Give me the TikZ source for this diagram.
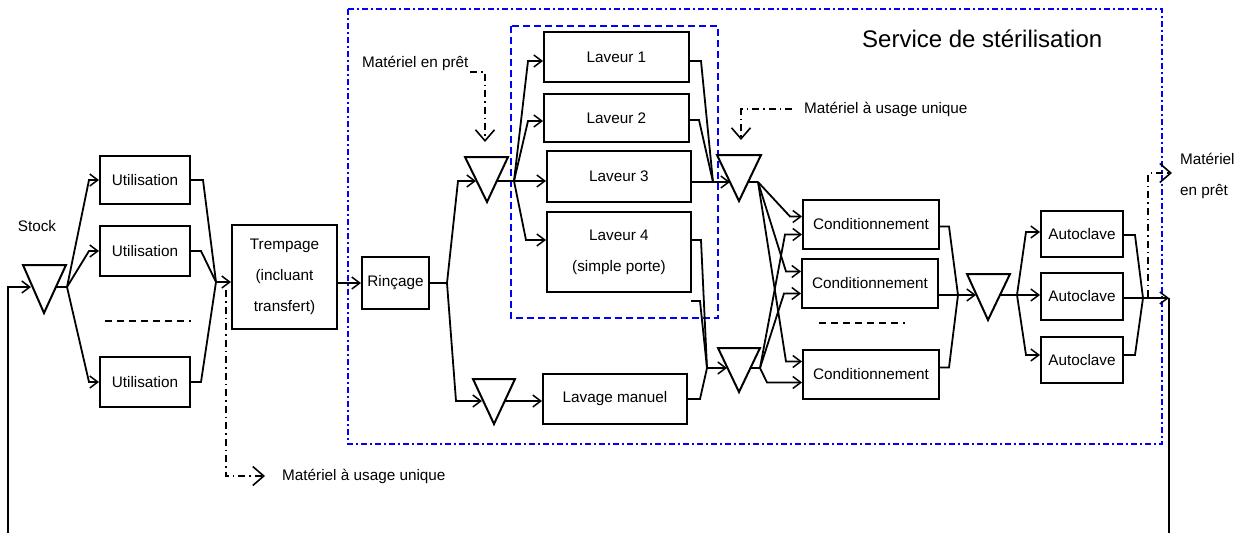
\documentclass[tikz,border=0pt]{standalone}
\usepackage{fontspec}
\setmainfont{Liberation Sans}
\usetikzlibrary{arrows.meta}
\definecolor{pureblue}{RGB}{0,0,255}
\tikzset{
  ln/.style={line width=1.8pt, black, line join=miter},
  arr/.style={ln, -{Straight Barb[length=8pt,width=12pt,line width=1.5pt]}},
  box/.style={draw, line width=2pt, inner sep=1pt, font=\fontsize{15.3}{31}\selectfont, align=center},
  tri/.style={draw, line width=2pt, line join=miter},
  bluebox/.style={pureblue, line width=2pt, dash pattern=on 6pt off 3pt on 2pt off 3pt},
  bluedash/.style={pureblue, line width=2pt, dash pattern=on 7pt off 4pt},
  flow/.style={line width=1.8pt, black, dash pattern=on 7pt off 4pt on 1.5pt off 4pt, -{Straight Barb[length=11pt,width=19pt,line width=1.6pt]}},
  sep/.style={line width=1.8pt, dash pattern=on 7pt off 5pt},
  lbl/.style={inner sep=0pt, font=\fontsize{15.3}{18}\selectfont},
}
\begin{document}
\begin{tikzpicture}[x=1pt,y=-1pt]
\useasboundingbox (0,0) rectangle (1240,533);

% service boundary
\draw[bluebox] (348,9) rectangle (1162,444);
\draw[bluedash] (511,26) rectangle (718,318);
\node[lbl, anchor=base west, font=\fontsize{24}{28}\selectfont] (svc) at (862,47) {Service de stérilisation};

% boxes
\node[box, minimum width=90pt, minimum height=48pt] (u1) at (145,180) {Utilisation};
\node[box, minimum width=90pt, minimum height=50pt] (u2) at (145,251) {Utilisation};
\node[box, minimum width=90pt, minimum height=50pt] (u4) at (145,382) {Utilisation};
\node[box, minimum width=105pt, minimum height=104pt] (trem) at (284.5,277) {Trempage\\(incluant\\transfert)};
\node[box, minimum width=67pt, minimum height=52pt] (rin) at (395.5,283) {Rinçage};
\node[box, minimum width=145pt, minimum height=50pt] (L1) at (616.5,57) {Laveur 1};
\node[box, minimum width=145pt, minimum height=48pt] (L2) at (616.5,118) {Laveur 2};
\node[box, minimum width=144pt, minimum height=51pt] (L3) at (619,176.5) {Laveur 3};
\node[box, minimum width=144pt, minimum height=80pt] (L4) at (619,252) {Laveur 4\\(simple porte)};
\node[box, minimum width=144pt, minimum height=50pt] (lav) at (615,399) {Lavage manuel};
\node[box, minimum width=136pt, minimum height=49pt] (C1) at (871,224.5) {Conditionnement};
\node[box, minimum width=136pt, minimum height=49pt] (C2) at (870,283.5) {Conditionnement};
\node[box, minimum width=136pt, minimum height=49pt] (C3) at (871,374.5) {Conditionnement};
\node[box, minimum width=82pt, minimum height=46pt] (A1) at (1082,234) {Autoclave};
\node[box, minimum width=82pt, minimum height=47pt] (A2) at (1082,296.5) {Autoclave};
\node[box, minimum width=82pt, minimum height=46pt] (A3) at (1082,360) {Autoclave};

% triangles (stocks / buffers)
\draw[tri] (23,265) -- (66,265) -- (44,313) -- cycle;
\draw[tri] (465,157) -- (508,157) -- (487,202) -- cycle;
\draw[tri] (473,379) -- (515,379) -- (494,424) -- cycle;
\draw[tri] (717,155) -- (761,155) -- (739,201) -- cycle;
\draw[tri] (718,348) -- (760,348) -- (739,392) -- cycle;
\draw[tri] (967,274) -- (1010,274) -- (988,320) -- cycle;

% named points
\coordinate (Sin) at (31,287);   \coordinate (Sout) at (56,287);
\coordinate (b0) at (67,287);
\coordinate (m1) at (216,282);
\coordinate (b2) at (447,283);
\coordinate (T2in) at (476,181); \coordinate (T2out) at (497,181);
\coordinate (b3) at (514,181);
\coordinate (T4in) at (482,401); \coordinate (T4out) at (504,401);
\coordinate (m3) at (713,182);
\coordinate (T3in) at (730,182); \coordinate (T3out) at (748,182);
\coordinate (b4) at (758,182);
\coordinate (m4) at (707,368);
\coordinate (stray) at (691,301);
\coordinate (T6in) at (727,368); \coordinate (T6out) at (751,368);
\coordinate (b6) at (760,368);
\coordinate (m5) at (958,295);
\coordinate (T5in) at (976,295); \coordinate (T5out) at (1000,295);
\coordinate (b7) at (1017,295);
\coordinate (m7) at (1143,298);
\coordinate (ret) at (1169,298);
\coordinate (retR) at (1169,533);
\coordinate (retL) at (8,533);
\coordinate (retLt) at (8,287);

% labels
\node[lbl, anchor=base] (stock) at (37,231) {Stock};
\node[lbl, anchor=base west] (mp1) at (362,67) {Matériel en prêt};
\node[lbl, anchor=base west] (mu1) at (804,113) {Matériel à usage unique};
\node[lbl, anchor=base west] (mu2) at (282,480) {Matériel à usage unique};
\node[lbl, anchor=base west] (mp2a) at (1180,164) {Matériel};
\node[lbl, anchor=base west] (mp2b) at (1180,195) {en prêt};

% return loop
\draw[arr] (retL) -- (retLt) -- (Sin);
\draw[ln] (ret) -- (retR);

% stock to utilisations
\draw[ln] (Sout) -- (b0);
\draw[arr] (b0) -- ([xshift=-10pt]u1.west) -- (u1.west);
\draw[arr] (b0) -- ([xshift=-10pt]u2.west) -- (u2.west);
\draw[arr] (b0) -- ([xshift=-10pt]u4.west) -- (u4.west);
\draw[sep] (105,321) -- (191,321);
\draw[ln] (u1.east) -- ++(12,0) -- (m1);
\draw[ln] (u2.east) -- ++(10,0) -- (m1);
\draw[ln] (u4.east) -- ++(10,0) -- (m1);
\draw[arr] (m1) -- (trem.west |- m1);
\draw[flow] (226,290) -- (226,476) -- (265,476);

% trempage -> rincage
\draw[arr] (trem.east |- rin.west) -- (rin.west);
\draw[ln] (rin.east) -- (b2);
\draw[arr] (b2) -- (458,181) -- (T2in);
\draw[arr] (b2) -- (456,401) -- (T4in);
\draw[arr] (T4out) -- (lav.west |- T4out);
\draw[flow] (470,72) -- (485,72) -- (485,142);

% laveurs
\draw[ln] (T2out) -- (b3);
\draw[arr] (b3) -- (528,61) -- ([yshift=-4pt]L1.west);
\draw[arr] (b3) -- (528,121) -- ([yshift=-3pt]L2.west);
\draw[arr] (b3) -- (L3.west |- b3);
\draw[arr] (b3) -- (526,240) -- ([yshift=12pt]L4.west);
\draw[ln] ([yshift=-4pt]L1.east) -- ++(11,0) -- (m3);
\draw[ln] ([yshift=-2pt]L2.east) -- ++(9,0) -- (m3);
\draw[arr] (L3.east |- m3) -- (T3in);
\draw[ln] ([yshift=12pt]L4.east) -- ++(9,0) -- (m4);
\draw[ln] (stray) -- ++(9,0) -- (m4);
\draw[ln] (lav.east) -- ++(12,0) -- (m4);
\draw[arr] (m4) -- (T6in);
\draw[flow] (792,109) -- (741,109) -- (741,140);

% to conditionnement
\draw[ln] (T3out) -- (b4);
\draw[arr] (b4) -- ([xshift=-12pt,yshift=8pt]C1.west) -- ([yshift=8pt]C1.west);
\draw[arr] (b4) -- ([xshift=-15pt,yshift=12pt]C2.west) -- ([yshift=12pt]C2.west);
\draw[arr] (b4) -- ([xshift=-16pt,yshift=13pt]C3.west) -- ([yshift=13pt]C3.west);
\draw[ln] (T6out) -- (b6);
\draw[arr] (b6) -- ([xshift=-17pt,yshift=-10pt]C1.west) -- ([yshift=-10pt]C1.west);
\draw[arr] (b6) -- ([xshift=-17pt,yshift=-10pt]C2.west) -- ([yshift=-10pt]C2.west);
\draw[arr] (b6) -- ([xshift=-35pt,yshift=-8pt]C3.west) -- ([yshift=-8pt]C3.west);
\draw[sep] (819,323) -- (905,323);
\draw[ln] ([yshift=-2pt]C1.east) -- ++(9,0) -- (m5);
\draw[arr] (C2.east |- m5) -- (T5in);
\draw[ln] ([yshift=7pt]C3.east) -- ++(9,0) -- (m5);

% autoclaves
\draw[ln] (T5out) -- (b7);
\draw[arr] (b7) -- ([xshift=-14pt,yshift=2pt]A1.west) -- ([yshift=2pt]A1.west);
\draw[arr] (b7) -- (A2.west |- b7);
\draw[arr] (b7) -- ([xshift=-14pt,yshift=5pt]A3.west) -- ([yshift=5pt]A3.west);
\draw[ln] ([yshift=-1pt]A1.east) -- ++(11,0) -- (m7);
\draw[ln] ([yshift=5pt]A3.east) -- ++(11,0) -- (m7);
\draw[arr] (A2.east |- m7) -- (ret);
\draw[flow] (1148,297) -- (1148,173) -- (1172,173);
\end{tikzpicture}
\end{document}
